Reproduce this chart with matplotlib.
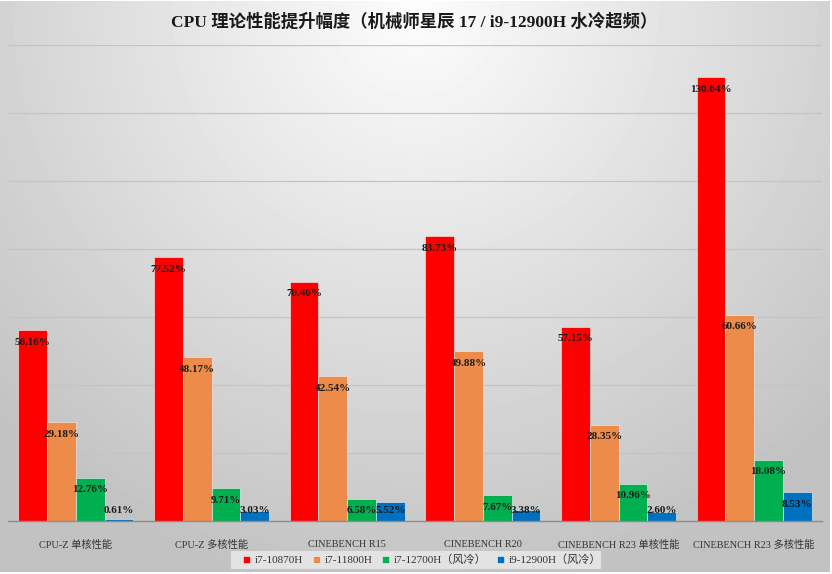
import numpy as np
import matplotlib
matplotlib.use('Agg')
import matplotlib.pyplot as plt
from matplotlib.patches import Rectangle

plt.rcParams['font.family'] = ['Liberation Serif', 'Noto Sans CJK SC', 'DejaVu Sans']

# data
categories = ['CPU-Z 单核性能', 'CPU-Z 多核性能', 'CINEBENCH R15', 'CINEBENCH R20',
              'CINEBENCH R23 单核性能', 'CINEBENCH R23 多核性能']
series_names = ['i7-10870H', 'i7-11800H', 'i7-12700H（风冷）', 'i9-12900H（风冷）']
i7_10870h = [56.16, 77.52, 70.40, 83.73, 57.15, 130.64]
i7_11800h = [29.18, 48.17, 42.54, 49.88, 28.35, 60.66]
i7_12700h = [12.76, 9.71, 6.58, 7.67, 10.96, 18.08]
i9_12900h = [0.61, 3.03, 5.52, 3.38, 2.60, 8.53]
series = [i7_10870h, i7_11800h, i7_12700h, i9_12900h]
colors = ['#FF0000', '#ED8B4B', '#00B050', '#0070C0']

W, H = 832, 574
fig = plt.figure(figsize=(W / 100, H / 100), dpi=100)
fig.patch.set_facecolor('white')

# radial grey background (Excel style chart area), pixel coordinates
bg = fig.add_axes([0, 0, 1, 1], zorder=-10)
bg.set_xlim(0, W)
bg.set_ylim(H, 0)
bg.axis('off')
yy, xx = np.mgrid[0:571, 0:830]
r = np.sqrt(((xx - 415) / 560.0) ** 2 + ((yy - 10) / 560.0) ** 2)
shade = np.clip(0.99 - 0.22 * r, 0.76, 0.99)
bg.imshow(shade, cmap='gray', vmin=0, vmax=1, extent=(0, 830, 572, 1),
          interpolation='bilinear', aspect='auto')
# legend backing box
bg.add_patch(Rectangle((231, 551), 370, 18, facecolor='#e3e3e3', edgecolor='none', zorder=2))

ax = fig.add_axes([8 / W, (H - 521) / H, 814 / W, 476 / H])
ax.set_facecolor('none')
x = np.arange(len(categories))
bw = 0.212
for i, (vals, c, name) in enumerate(zip(series, colors, series_names)):
    pos = x + (i - 1.5) * bw
    ax.bar(pos, vals, width=bw, color=c, edgecolor='#f4f4f4', linewidth=0.4,
           label=name, zorder=3)
    for p, v in zip(pos, vals):
        ax.text(p, max(v - 3.6, 3.0), f'{v:.2f}%', ha='center', va='center',
                fontsize=8, fontweight='bold', color='#1a1a1a', zorder=4)

ax.set_xlim(-0.5, len(categories) - 0.5)
ax.set_ylim(0, 140)
ax.set_yticks(np.arange(0, 141, 20))
ax.yaxis.grid(True, color='#c4c4c4', linewidth=0.9, zorder=0)
ax.tick_params(axis='y', left=False, labelleft=False)
ax.tick_params(axis='x', bottom=False, labelsize=7.4, pad=10, colors='#333333')
ax.set_xticks(x)
ax.set_xticklabels(categories)
for s in ['top', 'right', 'left']:
    ax.spines[s].set_visible(False)
ax.spines['bottom'].set_color('#8c8c8c')
ax.spines['bottom'].set_linewidth(1.0)
ax.spines['bottom'].set_zorder(5)

fig.text(414 / W, 1 - 22 / H, 'CPU 理论性能提升幅度（机械师星辰 17 / i9-12900H 水冷超频）',
         ha='center', va='center', fontsize=12.5, fontweight='bold', color='#1a1a1a')

leg = ax.legend(loc='center', bbox_to_anchor=(422 / W, 1 - 560 / H),
                bbox_transform=fig.transFigure, ncol=4, frameon=False,
                fontsize=8, handlelength=0.6, handleheight=0.6, handletextpad=0.45,
                columnspacing=0.9, borderpad=0.2)
for t in leg.get_texts():
    t.set_color('#333333')

fig.savefig('out.png', dpi=100)
